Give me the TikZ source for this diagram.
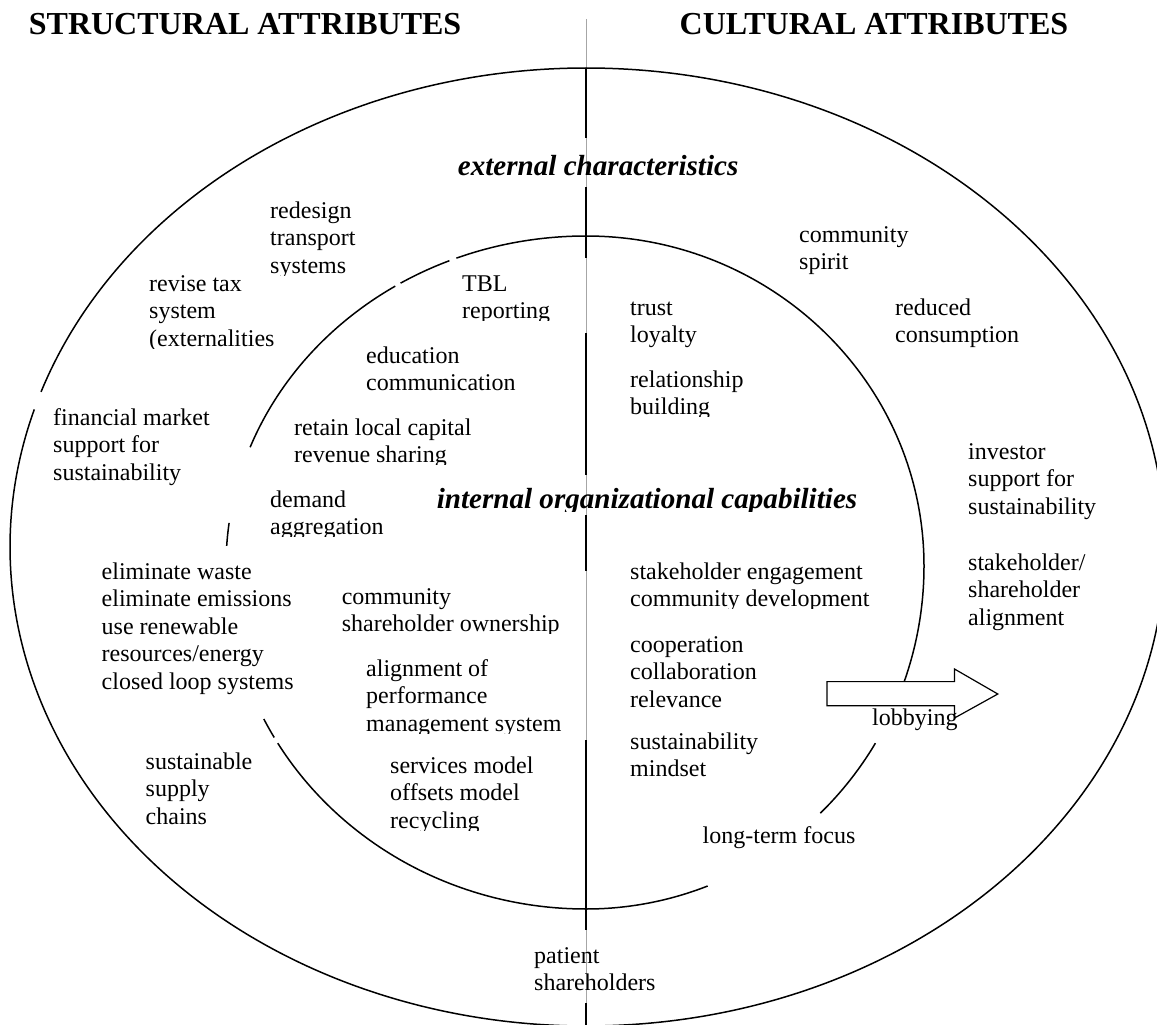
\documentclass[tikz,border=0pt]{standalone}
\usepackage{fontspec}
\setmainfont{Liberation Serif}
\newcommand{\ml}[1]{\begin{tabular}[t]{@{}l@{}}#1\end{tabular}}
\tikzset{
  lbl/.style={anchor=base west, inner sep=0pt, font=\fontsize{24}{27.6}\selectfont},
  hd/.style={anchor=base west, inner sep=0pt, font=\fontsize{32}{36}\selectfont\bfseries},
  subhd/.style={anchor=base west, inner sep=0pt, font=\fontsize{29.1}{33}\selectfont\bfseries\itshape},
  ring/.style={line width=1.5pt, line cap=butt},
  axisthin/.style={line width=0.6pt, draw=black!35},
  axisbold/.style={line width=1.8pt},
  blockarrow/.style={line width=1.2pt, fill=white, line join=miter},
}
\begin{document}
\begin{tikzpicture}[x=1pt,y=1pt]
\useasboundingbox (0,0) rectangle (1157,-1025);
\clip (0,0) rectangle (1157,-1025);

% centre coordinates
\coordinate (oc) at (586,-547);
\coordinate (ic) at (586,-566);

% ---- vertical divider ----
\coordinate (vtop) at (586,-19);
\coordinate (vbot) at (586,-1025);
\draw[axisthin] (vtop) -- (vbot);
\foreach \a/\b in {68/138,187/258,333/475,515/571,740/930,1003/1025}
  \draw[axisbold] (586,-\a) -- (586,-\b);

% ---- outer ring ----
\draw[ring] (oc) ++(-90:579 and 479) arc[start angle=-90, end angle=90, x radius=579, y radius=479];
\draw[ring] (oc) ++(90:576 and 479) arc[start angle=90, end angle=161.1, x radius=576, y radius=479];
\draw[ring] (oc) ++(163.3:576 and 479) arc[start angle=163.3, end angle=270, x radius=576, y radius=479];

% ---- inner ring ----
% top right
\draw[ring] (ic) ++(0:338 and 330) arc[start angle=0, end angle=90, x radius=338, y radius=330];
% bottom right
\draw[ring] (ic) ++(-19.6:338 and 343) arc[start angle=-19.6, end angle=0, x radius=338, y radius=343];
\draw[ring] (ic) ++(-46.1:338 and 343) arc[start angle=-46.1, end angle=-31.1, x radius=338, y radius=343];
\draw[ring] (ic) ++(-90:338 and 343) arc[start angle=-90, end angle=-68.9, x radius=338, y radius=343];
% bottom left
\draw[ring] (ic) ++(211.1:360 and 343) arc[start angle=211.1, end angle=270, x radius=360, y radius=343];
\draw[ring] (ic) ++(206.5:360 and 343) arc[start angle=206.5, end angle=210, x radius=360, y radius=343];
% top left
\draw[ring] (ic) ++(90:360 and 330) arc[start angle=90, end angle=111.1, x radius=360, y radius=330];
\draw[ring] (ic) ++(112.3:360 and 330) arc[start angle=112.3, end angle=121, x radius=360, y radius=330];
\draw[ring] (ic) ++(122:360 and 330) arc[start angle=122, end angle=158.9, x radius=360, y radius=330];
\draw[ring] (ic) ++(172.5:360 and 330) arc[start angle=172.5, end angle=176.5, x radius=360, y radius=330];

% ---- block arrow ----
\draw[blockarrow] (827,-681.6) -- (954.5,-681.6) -- (954.5,-669) -- (997.8,-694)
  -- (954.5,-718) -- (954.5,-705.8) -- (827,-705.8) -- cycle;

% ---- headings ----
\node[hd] (structural) at (28.7,-35) {STRUCTURAL ATTRIBUTES};
\node[hd] (cultural) at (679.5,-35) {CULTURAL ATTRIBUTES};
\node[subhd] (external) at (457.7,-175) {external characteristics};
\begin{scope}
  \clip (420,-475) rectangle (880,-511);
  \node[subhd] (internal) at (436.6,-508) {internal organizational capabilities};
\end{scope}

% ---- structural, external ----
\begin{scope}
  \clip (260,-190) rectangle (400,-275);
  \node[lbl] (redesign) at (270,-218) {\ml{redesign\\transport\\systems}};
\end{scope}
\begin{scope}
  \clip (140,-263) rectangle (320,-348);
  \node[lbl] (revisetax) at (149,-291) {\ml{revise tax\\system\\(externalities}};
\end{scope}
\node[lbl] (financial) at (53,-425) {\ml{financial market\\support for\\sustainability}};
\node[lbl] (supply) at (145.5,-769) {\ml{sustainable\\supply\\chains}};
\node[lbl] (patient) at (534,-963) {\ml{patient\\shareholders}};

% ---- structural, internal ----
\begin{scope}
  \clip (455,-263) rectangle (580,-320.5);
  \node[lbl] (tbl) at (462,-291) {\ml{TBL\\reporting}};
\end{scope}
\node[lbl] (education) at (366,-363) {\ml{education\\communication}};
\begin{scope}
  \clip (285,-407) rectangle (575,-464.5);
  \node[lbl] (retain) at (294,-435) {\ml{retain local capital\\revenue sharing}};
\end{scope}
\begin{scope}
  \clip (262,-479) rectangle (420,-536.5);
  \node[lbl] (demand) at (270,-507) {\ml{demand\\aggregation}};
\end{scope}
\node[lbl] (eliminate) at (101.5,-579) {\ml{eliminate waste\\eliminate emissions\\use renewable\\resources/energy\\closed loop systems}};
\begin{scope}
  \clip (335,-576) rectangle (580,-633.5);
  \node[lbl] (ownership) at (341.6,-604) {\ml{community\\shareholder ownership}};
\end{scope}
\begin{scope}
  \clip (360,-648) rectangle (580,-733);
  \node[lbl] (alignment) at (366,-676) {\ml{alignment of\\performance\\management system}};
\end{scope}
\begin{scope}
  \clip (383,-745) rectangle (575,-830);
  \node[lbl] (services) at (390,-773) {\ml{services model\\offsets model\\recycling}};
\end{scope}

% ---- cultural, internal ----
\node[lbl] (trust) at (630,-315) {\ml{trust\\loyalty}};
\begin{scope}
  \clip (623,-360) rectangle (780,-416.5);
  \node[lbl] (relationship) at (630,-387) {\ml{relationship\\building}};
\end{scope}
\begin{scope}
  \clip (623,-551) rectangle (880,-608.5);
  \node[lbl] (stakeholder) at (630,-579) {\ml{stakeholder engagement\\community development}};
\end{scope}
\node[lbl] (cooperation) at (630,-652) {\ml{cooperation\\collaboration\\relevance}};
\node[lbl] (mindset) at (630,-749) {\ml{sustainability\\mindset}};
\node[lbl] (longterm) at (702.5,-843) {long-term focus};
\node[lbl] (lobbying) at (872,-725) {lobbying};

% ---- cultural, external ----
\node[lbl] (community) at (799,-242) {\ml{community\\spirit}};
\node[lbl] (reduced) at (895,-315) {\ml{reduced\\consumption}};
\node[lbl] (investor) at (968,-459) {\ml{investor\\support for\\sustainability}};
\node[lbl] (alignshare) at (968,-570) {\ml{stakeholder/\\shareholder\\alignment}};
\end{tikzpicture}
\end{document}
